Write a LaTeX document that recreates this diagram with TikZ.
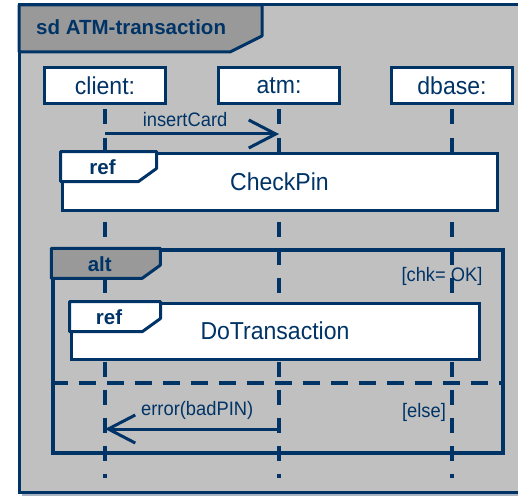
\documentclass[tikz,border=0pt]{standalone}
\usepackage{fontspec}
\setmainfont{Liberation Sans}
\newfontfamily\narrowsf[FakeStretch=0.94]{Liberation Sans}
\usetikzlibrary{arrows.meta,positioning,calc}
\definecolor{Frame}{HTML}{003366}
\definecolor{Panel}{HTML}{C0C0C0}
\definecolor{TabGray}{HTML}{999999}
\definecolor{Shade}{HTML}{A9B3C2}
\newcommand\lblbig{\narrowsf\fontsize{24.5}{28}\selectfont}
\newcommand\lblsmall{\narrowsf\fontsize{19.5}{23}\selectfont}
\newcommand\lblbold{\bfseries\fontsize{20.5}{24}\selectfont}
% tab in the upper left corner of a fragment: node, fill, width, keyword
\newcommand\fragtab[4]{%
  \draw[Frame,fill=#2,line width=3pt,line join=round] (#1.north west) -- ++(#3,0) -- ++(0,17) -- ++(-18,13) -- ($(#1.north west)+(0,30)$) -- cycle;
  \node[tag] (#1-tag) at ($(#1.north west)+(#3/2-6,16)$) {#4};}

\begin{document}
\begin{tikzpicture}[x=1pt,y=-1pt,
  head/.style={draw=Frame,fill=white,line width=3pt,minimum width=121pt,minimum height=36pt,inner sep=0pt,font=\lblbig,text=Frame},
  refbox/.style={draw=Frame,fill=white,line width=3pt,inner sep=0pt,font=\lblbig,text=Frame},
  tag/.style={font=\lblbold,text=Frame,inner sep=0pt},
  guard/.style={font=\lblsmall,text=Frame,inner sep=0pt},
  lifeline/.style={Frame,line width=3.5pt,dash pattern=on 15pt off 13pt,dash phase=24pt},
  msg/.style={Frame,line width=3pt,-{Straight Barb[length=27pt,width=28pt]}},
  msglbl/.style={font=\lblsmall,text=Frame,inner sep=0pt}]
\useasboundingbox (0,0) rectangle (518,497);
\clip (0,0) rectangle (518,497);

% diagram frame
\fill[Shade] (22,8) rectangle (560,495.5);
\draw[Frame,fill=Panel,line width=3pt] (19,5) rectangle (560,492);
\draw[Frame,fill=TabGray,line width=3pt,line join=round] (19,5) -- (262,5) -- (262,36) -- (230,52) -- (19,52) -- cycle;
\node[tag,anchor=west] (title) at (36,27) {sd ATM-transaction};

% lifeline heads
\node[head] (client) at (105,86) {client:};
\node[head] (atm) at (279,86) {atm:};
\node[head] (dbase) at (452,86) {dbase:};

% alt fragment
\node[draw=Frame,line width=3.5pt,minimum width=450pt,minimum height=203pt,inner sep=0pt] (altfrm) at (278,351.5) {};
\node[guard] (okGuard) at (442,276) {[chk= OK]};
\node[guard] (elseGuard) at (424,412) {[else]};

% lifelines
\coordinate (clEnd) at (105,478);
\coordinate (atmEnd) at (279,478);
\coordinate (dbEnd) at (452,478);
\draw[lifeline] (client.south) -- (clEnd);
\draw[lifeline] (atm.south) -- (atmEnd);
\draw[lifeline] (dbase.south) -- (dbEnd);

\fragtab{altfrm}{TabGray}{109}{alt}
\draw[Frame,line width=3.5pt,dash pattern=on 17pt off 11pt] (altfrm.west |- 0,383) -- (altfrm.east |- 0,383);

% interaction uses
\node[refbox,minimum width=435pt,minimum height=57pt] (checkPin) at (279.5,181.5) {CheckPin};
\fragtab{checkPin}{white}{96}{ref}
\node[refbox,minimum width=408pt,minimum height=56pt] (doTrans) at (275,331) {DoTransaction};
\fragtab{doTrans}{white}{91}{ref}

% messages
\coordinate (insFrom) at (105,134);
\coordinate (insTo) at (279,134);
\draw[msg] (insFrom) -- (insTo) node[msglbl,pos=0.46,above=6pt] (insLbl) {insertCard};
\coordinate (errFrom) at (279,429);
\coordinate (errTo) at (105,429);
\draw[msg] (errFrom) -- (errTo) node[msglbl,pos=0.47,above=8pt] (errLbl) {error(badPIN)};
\end{tikzpicture}
\end{document}
